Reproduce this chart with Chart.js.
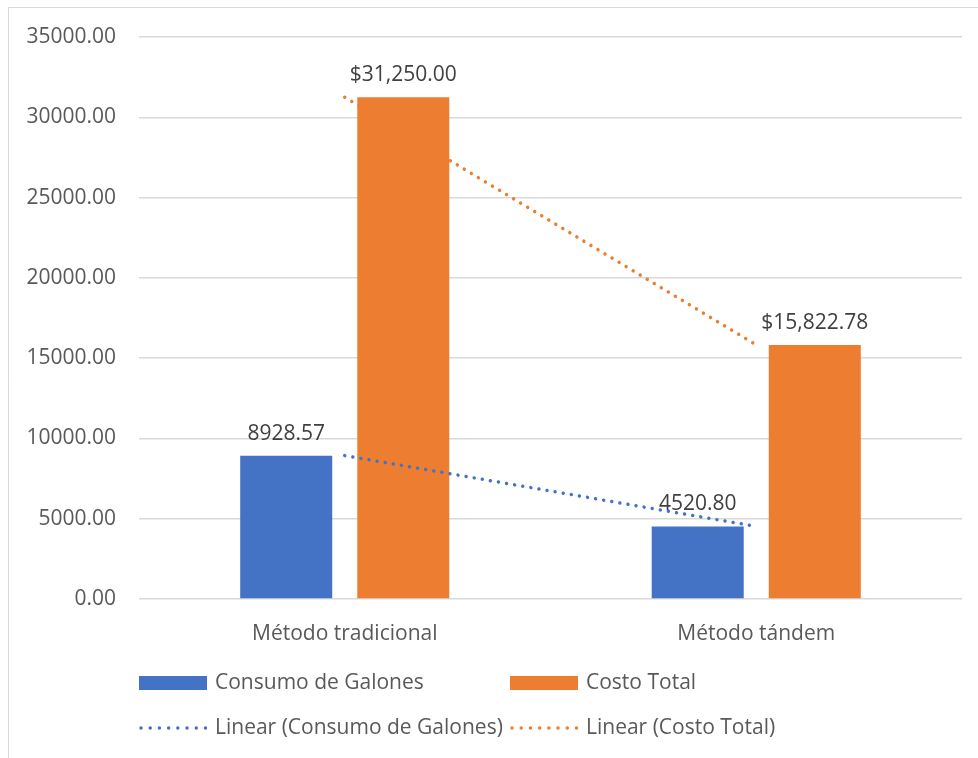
<!DOCTYPE html>
<html>
<head>
<meta charset="utf-8">
<script src="https://cdn.jsdelivr.net/npm/chart.js@4/dist/chart.umd.min.js"></script>
<style>
  html, body { margin: 0; padding: 0; background: #fff; overflow: hidden; }
  #wrap { position: relative; width: 978px; height: 758px; }
</style>
</head>
<body>
<div id="wrap"><canvas id="chart" width="978" height="758"></canvas></div>
<script>
// categories and series
const categories = ['Método tradicional', 'Método tándem'];
const galones = [8928.57, 4520.80];
const costoTotal = [31250.00, 15822.78];
const yTicks = [0, 5000, 10000, 15000, 20000, 25000, 30000, 35000];

const BLUE = '#4472C4';
const ORANGE = '#ED7D31';
const TEXT = '#595959';
const FONT = '"Open Sans", "Liberation Sans", sans-serif';
const FONT_SIZE = 21;

// least-squares line through the series, evaluated at each category index
function linearTrend(values) {
    const n = values.length;
    const xs = values.map((_, i) => i + 1);
    const mx = xs.reduce((a, b) => a + b, 0) / n;
    const my = values.reduce((a, b) => a + b, 0) / n;
    let sxy = 0, sxx = 0;
    xs.forEach((x, i) => { sxy += (x - mx) * (values[i] - my); sxx += (x - mx) * (x - mx); });
    const slope = sxy / sxx;
    return xs.map(x => my + slope * (x - mx));
}

const fmtPlain = v => v.toFixed(2);
const fmtMoney = v => '$' + v.toLocaleString('en-US', { minimumFractionDigits: 2, maximumFractionDigits: 2 });

// outer frame, value labels above the bars and the two-row legend
const decorations = {
    id: 'decorations',
    beforeDraw(chart) {
        const ctx = chart.ctx;
        ctx.save();
        ctx.strokeStyle = '#D9D9D9';
        ctx.lineWidth = 1;
        ctx.beginPath();
        ctx.moveTo(8.5, 760);
        ctx.lineTo(8.5, 7.5);
        ctx.lineTo(980, 7.5);
        ctx.stroke();
        ctx.restore();
    },
    afterDraw(chart) {
        const ctx = chart.ctx;
        ctx.save();
        ctx.font = FONT_SIZE + 'px ' + FONT;
        ctx.fillStyle = '#404040';
        ctx.textAlign = 'center';
        ctx.textBaseline = 'alphabetic';
        [[0, fmtPlain], [1, fmtMoney]].forEach(([di, fmt]) => {
            const ds = chart.data.datasets[di];
            chart.getDatasetMeta(di).data.forEach((bar, i) => {
                ctx.fillText(fmt(ds.data[i]), bar.x, bar.y - 16);
            });
        });

        // legend
        const items = [
            { x: 139, y: 683, color: BLUE, kind: 'box', text: 'Consumo de Galones' },
            { x: 510, y: 683, color: ORANGE, kind: 'box', text: 'Costo Total' },
            { x: 139, y: 728, color: BLUE, kind: 'dots', text: 'Linear (Consumo de Galones)' },
            { x: 510, y: 728, color: ORANGE, kind: 'dots', text: 'Linear (Costo Total)' }
        ];
        ctx.textAlign = 'left';
        ctx.textBaseline = 'middle';
        items.forEach(it => {
            if (it.kind === 'box') {
                ctx.fillStyle = it.color;
                ctx.fillRect(it.x, it.y - 7, 68, 14);
            } else {
                ctx.strokeStyle = it.color;
                ctx.lineWidth = 3.5;
                ctx.lineCap = 'round';
                ctx.setLineDash([0.01, 9.2]);
                ctx.beginPath();
                ctx.moveTo(it.x + 2, it.y);
                ctx.lineTo(it.x + 67, it.y);
                ctx.stroke();
                ctx.setLineDash([]);
            }
            ctx.fillStyle = TEXT;
            ctx.fillText(it.text, it.x + 76, it.y);
        });
        ctx.restore();
    }
};

new Chart(document.getElementById('chart'), {
    data: {
        labels: categories,
        datasets: [{
            type: 'bar',
            label: 'Consumo de Galones',
            data: galones,
            backgroundColor: BLUE,
            categoryPercentage: 0.569,
            barPercentage: 0.786,
            order: 1
        }, {
            type: 'bar',
            label: 'Costo Total',
            data: costoTotal,
            backgroundColor: ORANGE,
            categoryPercentage: 0.569,
            barPercentage: 0.786,
            order: 1
        }, {
            type: 'line',
            label: 'Linear (Consumo de Galones)',
            data: linearTrend(galones),
            borderColor: BLUE,
            borderWidth: 3.5,
            borderDash: [0.01, 8.2],
            borderCapStyle: 'round',
            pointRadius: 0,
            tension: 0,
            fill: false,
            order: 0
        }, {
            type: 'line',
            label: 'Linear (Costo Total)',
            data: linearTrend(costoTotal),
            borderColor: ORANGE,
            borderWidth: 3.5,
            borderDash: [0.01, 8.2],
            borderCapStyle: 'round',
            pointRadius: 0,
            tension: 0,
            fill: false,
            order: 0
        }]
    },
    options: {
        responsive: false,
        animation: false,
        devicePixelRatio: 1,
        layout: { padding: { left: 8, top: 37, right: 16, bottom: 0 } },
        plugins: {
            legend: { display: false },
            tooltip: { enabled: false }
        },
        scales: {
            x: {
                offset: true,
                grid: { display: false },
                border: { display: false },
                ticks: {
                    color: TEXT,
                    font: { family: FONT, size: FONT_SIZE },
                    padding: 14,
                    maxRotation: 0
                },
                afterFit: s => { s.height = 159; }
            },
            y: {
                min: 0,
                max: 35000,
                afterBuildTicks: s => { s.ticks = yTicks.map(v => ({ value: v })); },
                grid: { color: '#D9D9D9', lineWidth: 1.5, drawTicks: false },
                border: { display: false },
                ticks: {
                    color: TEXT,
                    font: { family: FONT, size: FONT_SIZE },
                    padding: 23,
                    callback: v => v.toFixed(2)
                },
                afterFit: s => { s.width = 131; }
            }
        }
    },
    plugins: [decorations]
});
</script>
</body>
</html>
